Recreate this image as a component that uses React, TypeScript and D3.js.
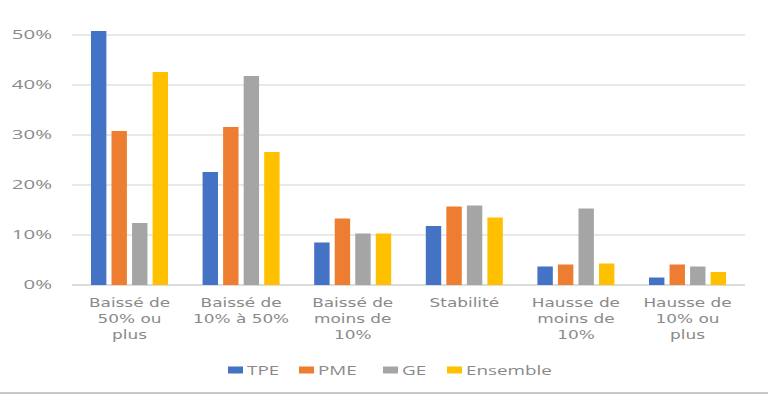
import * as d3 from "d3"

const categories = [
  ["Baissé de", "50% ou", "plus"],
  ["Baissé de", "10% à 50%"],
  ["Baissé de", "moins de", "10%"],
  ["Stabilité"],
  ["Hausse de", "moins de", "10%"],
  ["Hausse de", "10% ou", "plus"],
]
const seriesNames = ["TPE", "PME", "GE", "Ensemble"]
const tpe = [50.8, 22.6, 8.5, 11.8, 3.7, 1.5]
const pme = [30.8, 31.6, 13.3, 15.7, 4.1, 4.1]
const ge = [12.4, 41.8, 10.3, 15.9, 15.3, 3.7]
const ensemble = [42.6, 26.6, 10.3, 13.5, 4.3, 2.6]
const yTicks = [0, 10, 20, 30, 40, 50]

const COLORS: Record<string, string> = {
  TPE: "#4472c4",
  PME: "#ed7d31",
  GE: "#a5a5a5",
  Ensemble: "#ffc000",
}

const W = 768
const H = 395
const FONT = "'Open Sans', sans-serif"
const TEXT = "#8a8a8a"

export default function App() {
  const values = [tpe, pme, ge, ensemble]
  const left = 72
  const right = 745
  const top = 35
  const bottom = 285

  // picture is stretched sideways, so text gets a horizontal scale
  const x0 = d3.scaleBand<number>().domain(d3.range(categories.length)).range([left, right]).paddingInner(0.31).paddingOuter(0.17)
  const x1 = d3.scaleBand<string>().domain(seriesNames).range([0, x0.bandwidth()]).paddingInner(0.25).paddingOuter(0)
  const y = d3.scaleLinear().domain([0, 50]).range([bottom, top])

  const legendX = [228, 299, 383, 447]

  return (
    <svg width={W} height={H} style={{ position: "absolute", left: 0, top: 0, background: "#fff" }} fontFamily={FONT}>
      {yTicks.map((t) => (
        <g key={t}>
          <line x1={left} x2={right} y1={y(t)} y2={y(t)} stroke={t === 0 ? "#d0d0d0" : "#e0e0e0"} strokeWidth={1.5} />
          <g transform={`translate(52,${y(t)}) scale(1.7,1)`}>
            <text dy="0.36em" textAnchor="end" fontSize={12} fill={TEXT}>
              {t}%
            </text>
          </g>
        </g>
      ))}
      {categories.map((_, i) => (
        <g key={i} transform={`translate(${x0(i)},0)`}>
          {seriesNames.map((s, j) => (
            <rect
              key={s}
              x={x1(s)}
              y={y(values[j][i])}
              width={x1.bandwidth()}
              height={y(0) - y(values[j][i])}
              fill={COLORS[s]}
            />
          ))}
        </g>
      ))}
      {categories.map((lines, i) => (
        <g key={i} transform={`translate(${(x0(i) ?? 0) + x0.bandwidth() / 2},0) scale(1.3,1)`}>
          <text textAnchor="middle" fontSize={13} fontFamily="'DejaVu Sans', sans-serif" fill={TEXT}>
            {lines.map((l, k) => (
              <tspan key={k} x={0} y={307 + k * 16}>
                {l}
              </tspan>
            ))}
          </text>
        </g>
      ))}
      {seriesNames.map((s, j) => (
        <g key={s} transform={`translate(${legendX[j]},370)`}>
          <rect x={0} y={-3.5} width={15} height={7} fill={COLORS[s]} />
          <g transform="translate(19,0) scale(1.45,1)">
            <text dy="0.36em" fontSize={13} fill={TEXT}>
              {s}
            </text>
          </g>
        </g>
      ))}
      <line x1={0} x2={W} y1={393} y2={393} stroke="#c8c8c8" strokeWidth={2} />
    </svg>
  )
}
